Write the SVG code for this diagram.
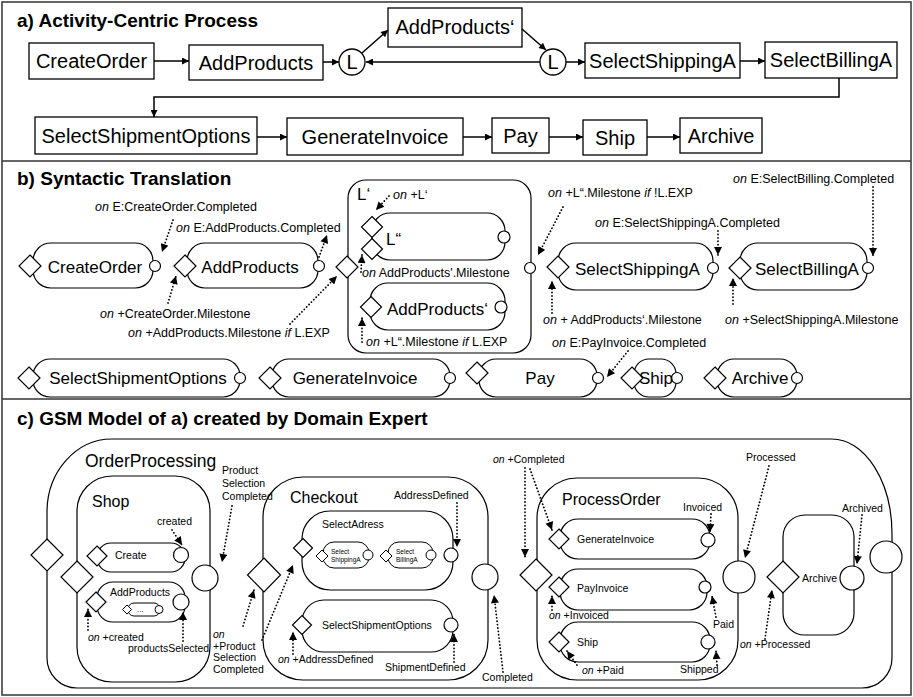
<svg xmlns="http://www.w3.org/2000/svg" width="913" height="697" viewBox="0 0 913 697">
<defs>
<style>
text{font-family:"Liberation Sans",Arial,sans-serif;fill:#000}
.ttl{font-size:19px;font-weight:bold}
.ta{font-size:20px}
.tb{font-size:17px}
.lb{font-size:12.5px}
.tc{font-size:16px}
.lc{font-size:10.5px}
.tiny{font-size:6.5px}
.box{fill:#fff;stroke:#000;stroke-width:1.3}
.stg{fill:#fff;stroke:#000;stroke-width:1.2}
.con{fill:none;stroke:#000;stroke-width:1.5}
.dot{fill:none;stroke:#000;stroke-width:1.8;stroke-linecap:round;stroke-dasharray:0.1 3.3}
.frame{fill:none;stroke:#333;stroke-width:1.5}
.i{font-style:italic}
</style>
<marker id="ah" viewBox="0 0 10 10" refX="10" refY="5" markerUnits="userSpaceOnUse" markerWidth="8" markerHeight="7" orient="auto"><path d="M0,0L10,5L0,10z" fill="#000"/></marker>
<marker id="ad" viewBox="0 0 10 10" refX="10" refY="5" markerUnits="userSpaceOnUse" markerWidth="9" markerHeight="8" orient="auto"><path d="M0,0L10,5L0,10z" fill="#000"/></marker>
</defs>
<rect width="913" height="697" fill="#fff"/>
<g id="frames">
<rect class="frame" x="2" y="2" width="909" height="693"/>
<line class="frame" x1="2" y1="161" x2="911" y2="161"/>
<line class="frame" x1="2" y1="399" x2="911" y2="399"/>
</g>
<text class="ttl" x="17" y="27">a) Activity-Centric Process</text>
<text class="ttl" x="17" y="185">b) Syntactic Translation</text>
<text class="ttl" x="17" y="425">c) GSM Model of a) created by Domain Expert</text>

<!-- Panel a -->
<g id="a-CreateOrder"><rect class="box" x="29" y="43" width="125" height="36"/><text class="ta" x="91.5" y="68" text-anchor="middle">CreateOrder</text></g>
<g id="a-AddProducts"><rect class="box" x="189" y="45" width="134" height="35"/><text class="ta" x="256" y="70" text-anchor="middle">AddProducts</text></g>
<g id="a-L1"><circle class="box" cx="352" cy="62" r="13"/><text class="ta" x="352" y="69" text-anchor="middle">L</text></g>
<g id="a-AddProductsP"><rect class="box" x="388" y="8" width="134" height="39"/><text class="ta" x="455" y="34" text-anchor="middle">AddProducts‘</text></g>
<g id="a-L2"><circle class="box" cx="553" cy="62" r="13"/><text class="ta" x="553" y="69" text-anchor="middle">L</text></g>
<g id="a-SelectShippingA"><rect class="box" x="585" y="43" width="155" height="35"/><text class="ta" x="662.5" y="68" text-anchor="middle">SelectShippingA</text></g>
<g id="a-SelectBillingA"><rect class="box" x="765" y="42" width="132" height="36"/><text class="ta" x="831" y="67" text-anchor="middle">SelectBillingA</text></g>
<g id="a-SelectShipmentOptions"><rect class="box" x="35" y="117" width="222" height="37"/><text class="ta" x="146" y="143" text-anchor="middle">SelectShipmentOptions</text></g>
<g id="a-GenerateInvoice"><rect class="box" x="287" y="118" width="176" height="37"/><text class="ta" x="375" y="144" text-anchor="middle">GenerateInvoice</text></g>
<g id="a-Pay"><rect class="box" x="492" y="118" width="57" height="35"/><text class="ta" x="520.5" y="143" text-anchor="middle">Pay</text></g>
<g id="a-Ship"><rect class="box" x="583" y="120" width="64" height="35"/><text class="ta" x="615" y="145" text-anchor="middle">Ship</text></g>
<g id="a-Archive"><rect class="box" x="680" y="118" width="82" height="35"/><text class="ta" x="721" y="143" text-anchor="middle">Archive</text></g>
<g id="a-connectors">
<line class="con" x1="154" y1="61" x2="189" y2="61" marker-end="url(#ah)"/>
<line class="con" x1="323" y1="62" x2="339" y2="62" marker-end="url(#ah)"/>
<line class="con" x1="362" y1="53" x2="388" y2="30" marker-end="url(#ah)"/>
<line class="con" x1="522" y1="29" x2="546" y2="50" marker-end="url(#ah)"/>
<line class="con" x1="540" y1="62" x2="366" y2="62" marker-end="url(#ah)"/>
<line class="con" x1="566" y1="62" x2="585" y2="62" marker-end="url(#ah)"/>
<line class="con" x1="740" y1="61" x2="765" y2="61" marker-end="url(#ah)"/>
<path class="con" d="M839,78V97H154V117" marker-end="url(#ah)"/>
<line class="con" x1="257" y1="137" x2="287" y2="137" marker-end="url(#ah)"/>
<line class="con" x1="463" y1="137" x2="492" y2="137" marker-end="url(#ah)"/>
<line class="con" x1="549" y1="137" x2="583" y2="137" marker-end="url(#ah)"/>
<line class="con" x1="647" y1="137" x2="680" y2="137" marker-end="url(#ah)"/>
</g>

<!-- Panel b -->
<g id="b-CreateOrder"><rect class="stg" x="33" y="243" width="120" height="45" rx="18"/><path class="stg" d="M30,255L41,266L30,277L19,266Z"/><circle class="stg" cx="155" cy="266" r="5.5"/><text class="tb" x="95" y="273" text-anchor="middle">CreateOrder</text></g>
<g id="b-AddProducts"><rect class="stg" x="187" y="243" width="131" height="45" rx="18"/><path class="stg" d="M185,255L196,266L185,277L174,266Z"/><circle class="stg" cx="319" cy="266" r="5.5"/><text class="tb" x="250" y="273" text-anchor="middle">AddProducts</text></g>
<g id="b-Lp"><rect class="stg" x="348" y="180" width="183" height="173" rx="18"/><path class="stg" d="M347,256L358,267L347,278L336,267Z"/><circle class="stg" cx="530" cy="268" r="5.5"/><text class="tb" x="357" y="200">L‘</text></g>
<g id="b-Lpp"><rect class="stg" x="372" y="213" width="133" height="47" rx="18"/><path class="stg" d="M372,216.5L382.5,227L372,237.5L361.5,227Z"/><path class="stg" d="M372,238.5L382.5,249L372,259.5L361.5,249Z"/><circle class="stg" cx="504" cy="237" r="6"/><text class="tb" x="386" y="245">L“</text></g>
<g id="b-AddProductsP"><rect class="stg" x="370" y="283" width="135" height="47" rx="18"/><path class="stg" d="M371,296.5L381.5,307L371,317.5L360.5,307Z"/><circle class="stg" cx="501" cy="307" r="6"/><text class="tb" x="387" y="315">AddProducts‘</text></g>
<g id="b-SelectShippingA"><rect class="stg" x="558" y="243" width="155" height="47" rx="18"/><path class="stg" d="M558,256L569,267L558,278L547,267Z"/><circle class="stg" cx="713" cy="268" r="5.5"/><text class="tb" x="575" y="275">SelectShippingA</text></g>
<g id="b-SelectBillingA"><rect class="stg" x="740" y="243" width="127" height="47" rx="18"/><path class="stg" d="M740,257L751,268L740,279L729,268Z"/><circle class="stg" cx="868" cy="268" r="5.5"/><text class="tb" x="755" y="275">SelectBillingA</text></g>
<g id="b-SelectShipmentOptions"><rect class="stg" x="33" y="359" width="207" height="38" rx="17"/><path class="stg" d="M29,367L40,378L29,389L18,378Z"/><circle class="stg" cx="240" cy="378" r="5.5"/><text class="tb" x="138" y="384" text-anchor="middle">SelectShipmentOptions</text></g>
<g id="b-GenerateInvoice"><rect class="stg" x="272" y="359" width="178" height="38" rx="17"/><path class="stg" d="M270,367L281,378L270,389L259,378Z"/><circle class="stg" cx="450" cy="378" r="5.5"/><text class="tb" x="355" y="384" text-anchor="middle">GenerateInvoice</text></g>
<g id="b-Pay"><rect class="stg" x="479" y="359" width="118" height="38" rx="17"/><path class="stg" d="M477,362L488,373L477,384L466,373Z"/><circle class="stg" cx="598" cy="378" r="5.5"/><text class="tb" x="540" y="384" text-anchor="middle">Pay</text></g>
<g id="b-Ship"><rect class="stg" x="634" y="359" width="42" height="38" rx="15"/><path class="stg" d="M632,367L643,378L632,389L621,378Z"/><circle class="stg" cx="677" cy="378" r="5.5"/><text class="tb" x="656" y="384" text-anchor="middle">Ship</text></g>
<g id="b-Archive"><rect class="stg" x="717" y="359" width="80" height="38" rx="17"/><path class="stg" d="M715,367L726,378L715,389L704,378Z"/><circle class="stg" cx="797" cy="378" r="5.5"/><text class="tb" x="760" y="384" text-anchor="middle">Archive</text></g>
<g id="b-labels" class="lb">
<text class="lb" x="95" y="211"><tspan class="i">on</tspan> E:CreateOrder.Completed</text>
<text class="lb" x="176" y="232"><tspan class="i">on</tspan> E:AddProducts.Completed</text>
<text class="lb" x="100" y="318"><tspan class="i">on</tspan> +CreateOrder.Milestone</text>
<text class="lb" x="128" y="337"><tspan class="i">on</tspan> +AddProducts.Milestone <tspan class="i">if</tspan> L.EXP</text>
<text class="lb" x="393" y="199"><tspan class="i">on</tspan> +L‘</text>
<text class="lb" x="362" y="277"><tspan class="i">on</tspan> AddProducts'.Milestone</text>
<text class="lb" x="366" y="346"><tspan class="i">on</tspan> +L“.Milestone <tspan class="i">if</tspan> L.EXP</text>
<text class="lb" x="548" y="197"><tspan class="i">on</tspan> +L“.Milestone <tspan class="i">if</tspan> !L.EXP</text>
<text class="lb" x="595" y="227"><tspan class="i">on</tspan> E:SelectShippingA.Completed</text>
<text class="lb" x="733" y="183"><tspan class="i">on</tspan> E:SelectBilling.Completed</text>
<text class="lb" x="543" y="324"><tspan class="i">on</tspan> + AddProducts‘.Milestone</text>
<text class="lb" x="725" y="324"><tspan class="i">on</tspan> +SelectShippingA.Milestone</text>
<text class="lb" x="552" y="347"><tspan class="i">on</tspan> E:PayInvoice.Completed</text>
</g>

<!-- Panel c -->
<g id="c-OrderProcessing"><path class="stg" d="M47,512A65,73 0 0 1 112,439H832A60,95 0 0 1 892,534V658A30,30 0 0 1 862,688H77A30,30 0 0 1 47,658Z"/><path class="stg" d="M47,539L63,555L47,571L31,555Z"/><circle class="stg" cx="886" cy="557" r="16"/><text class="tc" x="85" y="467" style="font-size:17.5px">OrderProcessing</text></g>
<g id="c-Shop"><rect class="stg" x="77" y="476" width="133" height="206" rx="35"/><path class="stg" d="M77,561L93,577L77,593L61,577Z"/><circle class="stg" cx="205" cy="578" r="13"/><text class="tc" x="92" y="507">Shop</text></g>
<g id="c-Create"><rect class="stg" x="97" y="543" width="88" height="29" rx="14"/><path class="stg" d="M97,546L107,556L97,566L87,556Z"/><circle class="stg" cx="181" cy="555" r="7.5"/><text class="lc" x="115" y="559">Create</text></g>
<g id="c-AddProducts"><rect class="stg" x="97" y="582" width="88" height="40" rx="16"/><path class="stg" d="M96,592L106,602L96,612L86,602Z"/><circle class="stg" cx="181" cy="602" r="8"/><text class="lc" x="110" y="596">AddProducts</text>
<rect class="stg" x="128" y="603" width="32" height="13" rx="6" style="stroke-width:1"/><path class="stg" d="M127,605L131.5,609.5L127,614L122.5,609.5Z" style="stroke-width:1"/><circle class="stg" cx="159" cy="609.5" r="4" style="stroke-width:1"/><text x="137" y="612" style="font-size:8px">...</text></g>
<g id="c-Checkout"><rect class="stg" x="263" y="477" width="225" height="203" rx="40"/><path class="stg" d="M264,558L280.5,575L264,592L247.5,575Z"/><circle class="stg" cx="485" cy="577" r="13"/><text class="tc" x="290" y="503">Checkout</text></g>
<g id="c-SelectAdress"><rect class="stg" x="302" y="511" width="151" height="79" rx="28"/><path class="stg" d="M303,538.5L312.5,548L303,557.5L293.5,548Z"/><circle class="stg" cx="451" cy="555" r="7"/><text class="lc" x="322" y="528">SelectAdress</text></g>
<g id="c-SelectShippingA"><rect class="stg" x="323" y="542" width="46" height="26" rx="11" style="stroke-width:1"/><path class="stg" d="M322,550L328,556L322,562L316,556Z" style="stroke-width:1"/><circle class="stg" cx="368" cy="555" r="5" style="stroke-width:1"/><text class="tiny" x="331" y="554">Select</text><text class="tiny" x="331" y="562">ShippingA</text></g>
<g id="c-SelectBillingA"><rect class="stg" x="388" y="542" width="45" height="26" rx="11" style="stroke-width:1"/><path class="stg" d="M386,550L392,556L386,562L380,556Z" style="stroke-width:1"/><circle class="stg" cx="431" cy="555" r="5" style="stroke-width:1"/><text class="tiny" x="396" y="554">Select</text><text class="tiny" x="396" y="562">BillingA</text></g>
<g id="c-SelectShipmentOptions"><rect class="stg" x="302" y="600" width="151" height="52" rx="22"/><path class="stg" d="M302,615.5L311.5,625L302,634.5L292.5,625Z"/><circle class="stg" cx="451" cy="625" r="7"/><text class="lc" x="322" y="629">SelectShipmentOptions</text></g>
<g id="c-ProcessOrder"><rect class="stg" x="537" y="478" width="201" height="202" rx="40"/><path class="stg" d="M536,559L552,575L536,591L520,575Z"/><circle class="stg" cx="739" cy="577" r="16"/><text class="tc" x="562" y="505">ProcessOrder</text></g>
<g id="c-GenerateInvoice"><rect class="stg" x="560" y="519" width="150" height="40" rx="18"/><path class="stg" d="M559,529L569,539L559,549L549,539Z"/><circle class="stg" cx="708" cy="540" r="7"/><text class="lc" x="577" y="543">GenerateInvoice</text></g>
<g id="c-PayInvoice"><rect class="stg" x="560" y="569" width="147" height="41" rx="18"/><path class="stg" d="M559,577L569,587L559,597L549,587Z"/><circle class="stg" cx="705" cy="587" r="6"/><text class="lc" x="577" y="592">PayInvoice</text></g>
<g id="c-Ship"><rect class="stg" x="560" y="622" width="150" height="40" rx="18"/><path class="stg" d="M559,632L569,642L559,652L549,642Z"/><circle class="stg" cx="708" cy="642" r="7"/><text class="lc" x="577" y="646">Ship</text></g>
<g id="c-Archive"><rect class="stg" x="783" y="515" width="71" height="120" rx="22"/><path class="stg" d="M783,561L799,577L783,593L767,577Z"/><circle class="stg" cx="852" cy="578" r="12"/><text class="lc" x="802" y="582">Archive</text></g>
<g id="c-labels">
<text class="lc" x="157" y="525">created</text>
<text class="lc" x="222" y="474">Product</text>
<text class="lc" x="222" y="487">Selection</text>
<text class="lc" x="222" y="500">Completed</text>
<text class="lc" x="88" y="641"><tspan class="i">on</tspan> +created</text>
<text class="lc" x="128" y="652">productsSelected</text>
<text class="lc i" x="213" y="638">on</text>
<text class="lc" x="213" y="650">+Product</text>
<text class="lc" x="213" y="661">Selection</text>
<text class="lc" x="213" y="673">Completed</text>
<text class="lc" x="394" y="499">AddressDefined</text>
<text class="lc" x="278" y="663"><tspan class="i">on</tspan> +AddressDefined</text>
<text class="lc" x="385" y="671">ShipmentDefined</text>
<text class="lc" x="482" y="681">Completed</text>
<text class="lc" x="493" y="463"><tspan class="i">on</tspan> +Completed</text>
<text class="lc" x="683" y="511">Invoiced</text>
<text class="lc" x="549" y="619"><tspan class="i">on</tspan> +Invoiced</text>
<text class="lc" x="713" y="628">Paid</text>
<text class="lc" x="582" y="674"><tspan class="i">on</tspan> +Paid</text>
<text class="lc" x="680" y="673">Shipped</text>
<text class="lc" x="746" y="461">Processed</text>
<text class="lc" x="842" y="512">Archived</text>
<text class="lc" x="740" y="648"><tspan class="i">on</tspan> +Processed</text>
</g>

<g id="connectors">
<!-- b -->
<line class="dot" x1="173" y1="220" x2="162" y2="252" marker-end="url(#ad)"/>
<line class="dot" x1="319" y1="257" x2="327" y2="235" marker-end="url(#ad)"/>
<line class="dot" x1="168" y1="303" x2="176" y2="276" marker-end="url(#ad)"/>
<line class="dot" x1="290" y1="324" x2="337" y2="276" marker-end="url(#ad)"/>
<line class="dot" x1="389" y1="196" x2="376" y2="210" marker-end="url(#ad)"/>
<line class="dot" x1="361" y1="272" x2="362" y2="255" marker-end="url(#ad)"/>
<line class="dot" x1="362" y1="342" x2="362" y2="318" marker-end="url(#ad)"/>
<line class="dot" x1="563" y1="207" x2="538" y2="255" marker-end="url(#ad)"/>
<line class="dot" x1="718" y1="231" x2="718" y2="255" marker-end="url(#ad)"/>
<line class="dot" x1="873" y1="187" x2="873" y2="256" marker-end="url(#ad)"/>
<line class="dot" x1="552" y1="313" x2="552" y2="281" marker-end="url(#ad)"/>
<line class="dot" x1="733" y1="304" x2="733" y2="278" marker-end="url(#ad)"/>
<line class="dot" x1="628" y1="351" x2="607" y2="377" marker-end="url(#ad)"/>
<!-- c -->
<line class="dot" x1="172" y1="530" x2="182" y2="545" marker-end="url(#ad)"/>
<line class="dot" x1="232" y1="506" x2="222" y2="562" marker-end="url(#ad)"/>
<line class="dot" x1="88" y1="630" x2="88" y2="609" marker-end="url(#ad)"/>
<line class="dot" x1="183" y1="641" x2="183" y2="612" marker-end="url(#ad)"/>
<line class="dot" x1="243" y1="626" x2="254" y2="590" marker-end="url(#ad)"/>
<line class="dot" x1="262" y1="640" x2="293" y2="565" marker-end="url(#ad)"/>
<line class="dot" x1="457" y1="503" x2="457" y2="547" marker-end="url(#ad)"/>
<line class="dot" x1="293" y1="654" x2="293" y2="632" marker-end="url(#ad)"/>
<line class="dot" x1="454" y1="662" x2="454" y2="634" marker-end="url(#ad)"/>
<line class="dot" x1="503" y1="672" x2="494" y2="595" marker-end="url(#ad)"/>
<line class="dot" x1="525" y1="468" x2="525" y2="557" marker-end="url(#ad)"/>
<line class="dot" x1="530" y1="469" x2="552" y2="530" marker-end="url(#ad)"/>
<line class="dot" x1="711" y1="514" x2="710" y2="532" marker-end="url(#ad)"/>
<line class="dot" x1="552" y1="610" x2="552" y2="596" marker-end="url(#ad)"/>
<line class="dot" x1="716" y1="617" x2="712" y2="596" marker-end="url(#ad)"/>
<line class="dot" x1="577" y1="665" x2="567" y2="651" marker-end="url(#ad)"/>
<line class="dot" x1="717" y1="665" x2="716" y2="651" marker-end="url(#ad)"/>
<line class="dot" x1="769" y1="466" x2="745" y2="558" marker-end="url(#ad)"/>
<line class="dot" x1="862" y1="515" x2="857" y2="564" marker-end="url(#ad)"/>
<line class="dot" x1="765" y1="639" x2="772" y2="590" marker-end="url(#ad)"/>
</g>
</svg>
